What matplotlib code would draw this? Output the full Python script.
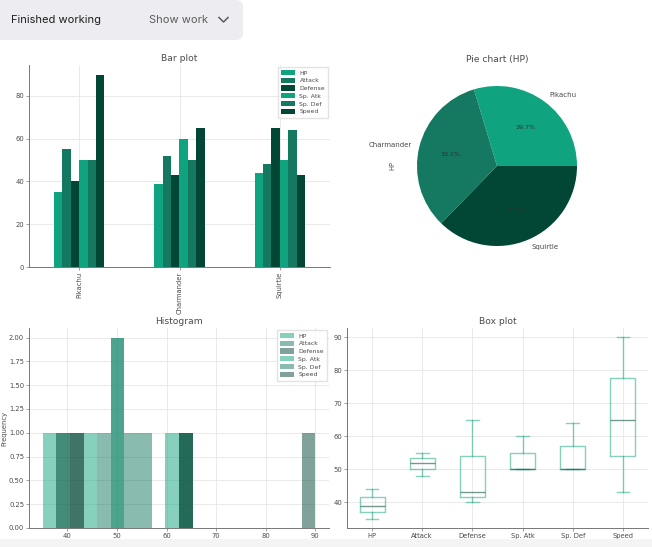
import numpy as np
import matplotlib
matplotlib.use("Agg")
import matplotlib.pyplot as plt
from matplotlib.patches import FancyBboxPatch, Rectangle
from matplotlib.lines import Line2D

# ---- data ----
pokemon = ["Pikachu", "Charmander", "Squirtle"]
stats = ["HP", "Attack", "Defense", "Sp. Atk", "Sp. Def", "Speed"]
hp = [35, 39, 44]
attack = [55, 52, 48]
defense = [40, 43, 65]
sp_atk = [50, 60, 50]
sp_def = [50, 50, 64]
speed = [90, 65, 43]
series = [hp, attack, defense, sp_atk, sp_def, speed]

palette = ["#10A37F", "#147960", "#024736"]
colors = [palette[i % 3] for i in range(len(stats))]

TXT = "#4a4a4a"
GRID = "#e6e6e6"
SPINE = "#777777"
FS = 4.9

plt.rcParams.update({
    "font.family": ["DejaVu Sans"],
    "text.color": TXT,
    "axes.labelcolor": TXT,
    "xtick.color": SPINE,
    "ytick.color": SPINE,
    "xtick.labelcolor": TXT,
    "ytick.labelcolor": TXT,
    "xtick.labelsize": FS,
    "ytick.labelsize": FS,
    "xtick.major.size": 2,
    "ytick.major.size": 2,
    "xtick.major.width": 0.5,
    "ytick.major.width": 0.5,
    "xtick.major.pad": 1.5,
    "ytick.major.pad": 1.5,
    "axes.edgecolor": SPINE,
    "axes.linewidth": 0.7,
    "axes.titlesize": 6.6,
    "axes.titlecolor": TXT,
    "axes.titlepad": 3,
    "axes.labelsize": FS,
    "legend.fontsize": 4.4,
})

W, H = 652, 547
fig = plt.figure(figsize=(W / 100, H / 100), dpi=100)
fig.patch.set_facecolor("white")


def px_axes(left, top, right, bottom):
    return fig.add_axes([left / W, 1 - bottom / H, (right - left) / W, (bottom - top) / H])


def style(ax):
    ax.spines["top"].set_visible(False)
    ax.spines["right"].set_visible(False)
    ax.grid(True, color=GRID, linewidth=0.6)
    ax.set_axisbelow(True)


# ---- header ----
fig.patches.append(FancyBboxPatch((-10 / W, 1 - 40 / H), 253 / W, 40 / H,
                                  boxstyle="round,pad=0,rounding_size=0.012",
                                  transform=fig.transFigure, facecolor="#ececf1",
                                  edgecolor="none", zorder=0))
fig.text(11 / W, 1 - 20 / H, "Finished working", fontsize=8.0, family=["Inter", "DejaVu Sans"],
         color="#1f1f1f", va="center", ha="left")
fig.text(149 / W, 1 - 20 / H, "Show work", fontsize=8.0, family=["Inter", "DejaVu Sans"],
         color="#5d5d5d", va="center", ha="left")
fig.lines.append(Line2D([219 / W, 223.5 / W, 228 / W], [1 - 17.5 / H, 1 - 22 / H, 1 - 17.5 / H],
                        transform=fig.transFigure, color="#5d5d5d", linewidth=1.1))
fig.patches.append(Rectangle((0, 0), 1, 8 / H, transform=fig.transFigure,
                             facecolor="#f4f4f5", edgecolor="none", zorder=0))

# ---- bar plot ----
ax1 = px_axes(29, 65, 330, 267)
style(ax1)
x = np.arange(len(pokemon))
n = len(stats)
w = 0.5 / n
for i, (name, vals) in enumerate(zip(stats, series)):
    ax1.bar(x - 0.25 + w * (i + 0.5), vals, width=w, color=colors[i], label=name)
ax1.set_xlim(-0.5, len(pokemon) - 0.5)
ax1.set_xticks(x)
ax1.set_xticklabels(pokemon, rotation=90)
ax1.set_yticks([0, 20, 40, 60, 80])
ax1.set_title("Bar plot")
ax1.legend(loc="upper right", frameon=True, fancybox=False, edgecolor="#dddddd",
           handlelength=2.2, handleheight=0.9, labelspacing=0.35, borderpad=0.5,
           borderaxespad=0.3)

# ---- pie chart ----
ax2 = px_axes(397, 66, 597, 266)
ax2.pie(hp, labels=pokemon, colors=palette, autopct="%1.1f%%",
        textprops={"fontsize": 5.0, "color": TXT})
for t in ax2.texts:
    if t.get_text().endswith("%"):
        t.set_fontsize(4.5)
        t.set_color("#2f2f2f")
ax2.set_ylabel("HP", fontsize=FS, labelpad=1)
ax2.set_title("Pie chart (HP)")

# ---- histogram ----
ax3 = px_axes(29, 328, 329, 528)
style(ax3)
bins = np.linspace(min(min(s) for s in series), max(max(s) for s in series), 21)
for i, (name, vals) in enumerate(zip(stats, series)):
    ax3.hist(vals, bins=bins, color=colors[i], alpha=0.5, label=name)
ax3.set_yticks(np.arange(0, 2.01, 0.25))
ax3.yaxis.set_major_formatter(matplotlib.ticker.FormatStrFormatter("%.2f"))
ax3.set_ylabel("Frequency", labelpad=1.2)
ax3.set_title("Histogram")
ax3.legend(loc="upper right", frameon=True, fancybox=False, edgecolor="#dddddd",
           handlelength=2.2, handleheight=0.9, labelspacing=0.35, borderpad=0.5,
           borderaxespad=0.3)

# ---- box plot ----
ax4 = px_axes(347, 328, 648, 528)
style(ax4)
bp = ax4.boxplot(series, tick_labels=stats, widths=0.5, showfliers=False)
for key in ("boxes", "whiskers", "caps"):
    for ln in bp[key]:
        ln.set_color("#10A37F")
        ln.set_alpha(0.5)
        ln.set_linewidth(1.0)
for ln in bp["medians"]:
    ln.set_color("#024736")
    ln.set_alpha(0.55)
    ln.set_linewidth(1.0)
ax4.set_xlim(0.5, 6.5)
ax4.set_ylim(32.25, 92.75)
ax4.set_yticks([40, 50, 60, 70, 80, 90])
ax4.set_title("Box plot")

fig.savefig("out.png", dpi=100)
